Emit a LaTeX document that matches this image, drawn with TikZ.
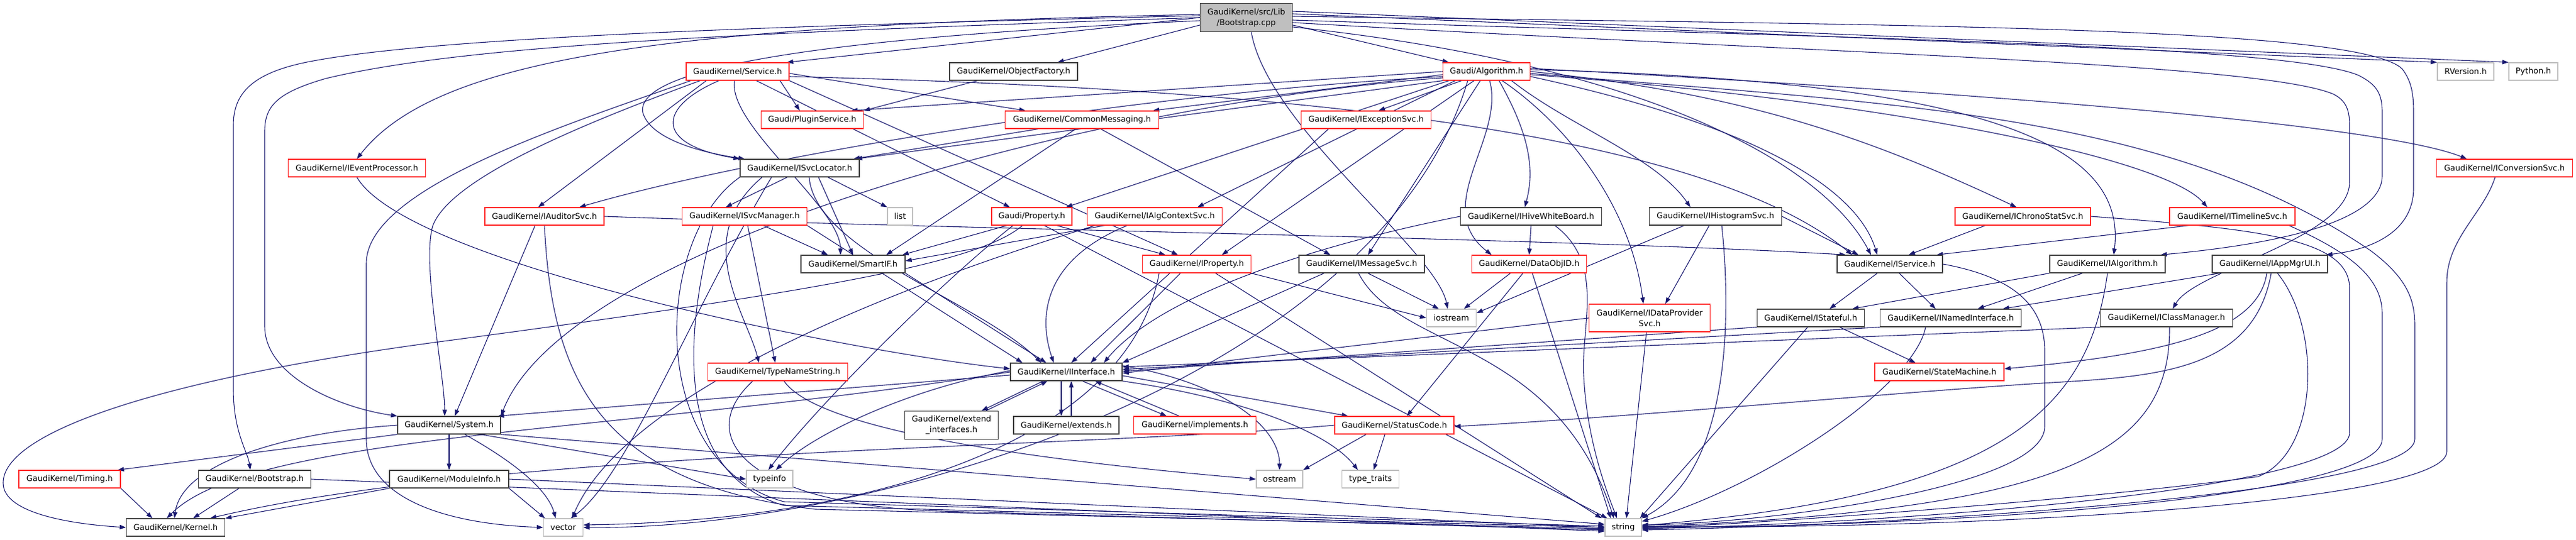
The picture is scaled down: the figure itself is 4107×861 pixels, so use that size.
\documentclass[tikz,border=0pt]{standalone}
\usepackage{fontspec}
\setmainfont{DejaVu Sans}
\usetikzlibrary{arrows.meta}
\pgfdeclarelayer{bg}
\pgfsetlayers{bg,main}
\definecolor{edgec}{HTML}{191970}
\definecolor{nodered}{HTML}{FF2A2A}
\definecolor{nodeblk}{HTML}{404040}
\definecolor{nodegry}{HTML}{BFBFBF}
\begin{document}
\begin{tikzpicture}[x=1pt,y=-1pt,
 nb/.style={line width=1.3pt, fill=white, minimum height=28pt, inner sep=0pt, font=\fontsize{12.8pt}{17pt}\selectfont, align=center, text=black},
 nred/.style={nb, draw=nodered},
 nblk/.style={nb, draw=nodeblk},
 ngry/.style={nb, draw=nodegry},
 nfil/.style={nb, draw=nodeblk, fill=nodegry},
 dep/.style={draw=edgec, line width=1.1pt, -{Triangle[length=10pt,width=7pt]}}
]
\useasboundingbox (0,0) rectangle (4107,861);
% ---------- nodes ----------
\node[nfil, minimum width=147pt, minimum height=45pt] (bcpp) at (1987,28) {GaudiKernel/src/Lib\\/Bootstrap.cpp};
\node[nred, minimum width=164pt] (serv) at (1176,114) {GaudiKernel/Service.h};
\node[nblk, minimum width=204pt] (objf) at (1616,114) {GaudiKernel/ObjectFactory.h};
\node[nred, minimum width=139pt] (galg) at (2370,114) {Gaudi/Algorithm.h};
\node[ngry, minimum width=90pt] (rver) at (3931,114) {RVersion.h};
\node[ngry, minimum width=78pt] (pyth) at (4039,114) {Python.h};
\node[nred, minimum width=163pt] (plug) at (1295,191) {Gaudi/PluginService.h};
\node[nred, minimum width=245pt] (cmsg) at (1725,191) {GaudiKernel/CommonMessaging.h};
\node[nred, minimum width=207pt] (iexc) at (2178,191) {GaudiKernel/IExceptionSvc.h};
\node[nred, minimum width=219pt] (ievp) at (569,268) {GaudiKernel/IEventProcessor.h};
\node[nblk, minimum width=190pt] (isvl) at (1275,268) {GaudiKernel/ISvcLocator.h};
\node[nred, minimum width=217pt] (iconv) at (3993,268) {GaudiKernel/IConversionSvc.h};
\node[nred, minimum width=190pt] (iaud) at (868,345) {GaudiKernel/IAuditorSvc.h};
\node[nred, minimum width=199pt] (ismg) at (1187,345) {GaudiKernel/ISvcManager.h};
\node[ngry, minimum width=40pt] (list) at (1435,345) {list};
\node[nred, minimum width=128pt] (prop) at (1645,345) {Gaudi/Property.h};
\node[nred, minimum width=215pt] (iactx) at (1841,345) {GaudiKernel/IAlgContextSvc.h};
\node[nblk, minimum width=225pt] (ihwb) at (2441,345) {GaudiKernel/IHiveWhiteBoard.h};
\node[nblk, minimum width=211pt] (ihist) at (2735,345) {GaudiKernel/IHistogramSvc.h};
\node[nred, minimum width=216pt] (ichr) at (3225,345) {GaudiKernel/IChronoStatSvc.h};
\node[nred, minimum width=200pt] (itml) at (3559,345) {GaudiKernel/ITimelineSvc.h};
\node[nblk, minimum width=166pt] (smif) at (1360,421) {GaudiKernel/SmartIF.h};
\node[nred, minimum width=173pt] (iprop) at (1908,421) {GaudiKernel/IProperty.h};
\node[nblk, minimum width=200pt] (imsg) at (2171,421) {GaudiKernel/IMessageSvc.h};
\node[nred, minimum width=183pt] (doid) at (2438,421) {GaudiKernel/DataObjID.h};
\node[nblk, minimum width=168pt] (isrv) at (3013,421) {GaudiKernel/IService.h};
\node[nblk, minimum width=184pt] (ialg) at (3360,421) {GaudiKernel/IAlgorithm.h};
\node[nblk, minimum width=184pt] (iapp) at (3619,421) {GaudiKernel/IAppMgrUI.h};
\node[ngry, minimum width=79pt] (iost) at (2314,507) {iostream};
\node[nred, minimum width=193pt, minimum height=44pt] (idps) at (2630,507) {GaudiKernel/IDataProvider\\Svc.h};
\node[nblk, minimum width=171pt] (istf) at (2887,507) {GaudiKernel/IStateful.h};
\node[nblk, minimum width=225pt] (inam) at (3110,507) {GaudiKernel/INamedInterface.h};
\node[nblk, minimum width=211pt] (icls) at (3454,507) {GaudiKernel/IClassManager.h};
\node[nred, minimum width=223pt] (tns) at (1240,593) {GaudiKernel/TypeNameString.h};
\node[nblk, minimum width=178pt] (iint) at (1700,593) {GaudiKernel/IInterface.h};
\node[nred, minimum width=206pt] (stm) at (3092,593) {GaudiKernel/StateMachine.h};
\node[nblk, minimum width=164pt] (sys) at (716,678) {GaudiKernel/System.h};
\node[nblk, minimum width=149pt, minimum height=45pt] (ext) at (1517,678) {GaudiKernel/extend\\\_interfaces.h};
\node[nblk, minimum width=168pt] (exts) at (1700,678) {GaudiKernel/extends.h};
\node[nred, minimum width=195pt] (impl) at (1905,678) {GaudiKernel/implements.h};
\node[nred, minimum width=190pt] (stc) at (2223,678) {GaudiKernel/StatusCode.h};
\node[nred, minimum width=162pt] (tim) at (111,764) {GaudiKernel/Timing.h};
\node[nblk, minimum width=179pt] (bsh) at (406,764) {GaudiKernel/Bootstrap.h};
\node[nblk, minimum width=190pt] (mod) at (716,764) {GaudiKernel/ModuleInfo.h};
\node[ngry, minimum width=74pt] (tinf) at (1227,764) {typeinfo};
\node[ngry, minimum width=74pt] (ostr) at (2040,764) {ostream};
\node[ngry, minimum width=91pt] (ttr) at (2185,764) {type\_traits};
\node[nblk, minimum width=157pt] (kern) at (280,841) {GaudiKernel/Kernel.h};
\node[ngry, minimum width=63pt] (vec) at (898,841) {vector};
\node[ngry, minimum width=58pt] (str) at (2588,841) {string};
% ---------- edges ----------
\begin{pgfonlayer}{bg}
\fill[white] (0,0) rectangle (4107,861);
% Bootstrap.cpp
\draw[dep] (bcpp.west) -- ([xshift=-4pt]serv.north east);
\draw[dep] ([yshift=-12pt]bcpp.west) -- ([xshift=70pt]objf.north);
\draw[dep] ([yshift=-12pt]bcpp.east) -- ([xshift=10pt]galg.north west);
\draw[dep] ([yshift=6pt]bcpp.east) -- (rver.north west);
\draw[dep] ([yshift=10pt]bcpp.east) -- (pyth.north west);
\draw[dep] ([yshift=5pt]bcpp.west) .. controls (1100,40) and (700,85) .. (ievp.north);
\draw[dep] ([yshift=3pt]bcpp.west) .. controls (1200,42) and (700,60) .. (500,97) .. controls (400,115) and (372,150) .. (372,200) -- (372,620) .. controls (372,690) and (395,720) .. ([xshift=-7pt]bsh.north);
\draw[dep] (bcpp.west) .. controls (1200,52) and (750,70) .. (520,125) .. controls (440,148) and (422,170) .. (422,210) -- (422,520) .. controls (422,600) and (540,650) .. (sys.north west);
\draw[dep] ([yshift=-5pt]bcpp.west) .. controls (1300,60) and (1010,110) .. (1025,180) .. controls (1040,230) and (1150,248) .. ([xshift=8pt]isvl.north west);
\draw[dep] ([xshift=8pt]bcpp.south) .. controls (2020,200) and (2290,400) .. ([xshift=-6pt]iost.north);
\draw[dep] ([yshift=-15pt]bcpp.east) .. controls (2600,100) and (2900,250) .. ([xshift=-30pt]isrv.north);
\draw[dep] ([yshift=-4pt]bcpp.east) .. controls (2900,60) and (3640,70) .. (3760,120) .. controls (3790,135) and (3798,150) .. (3798,180) -- (3798,280) .. controls (3798,360) and (3600,392) .. ([xshift=-8pt]ialg.north east);
\draw[dep] ([yshift=2pt]bcpp.east) .. controls (3000,40) and (3760,40) .. (3830,110) .. controls (3845,130) and (3848,150) .. (3848,180) -- (3848,300) .. controls (3848,370) and (3780,398) .. ([xshift=-3pt]iapp.north east);
\draw[dep] ([yshift=-8pt]bcpp.east) .. controls (2900,85) and (3600,100) .. (3720,150) .. controls (3740,160) and (3746,175) .. (3746,200) -- (3746,290) .. controls (3746,380) and (3500,430) .. ([xshift=10pt]icls.north);
% Service.h
\draw[dep] ([xshift=-15pt]serv.south east) -- ([xshift=-20pt]plug.north);
\draw[dep] ([yshift=-3pt]serv.east) -- ([xshift=-90pt]cmsg.north);
\draw[dep] ([xshift=-30pt]serv.south) .. controls (1050,170) and (1040,230) .. (isvl.north west);
\draw[dep] ([xshift=-50pt]serv.south) -- ([xshift=-10pt]iaud.north);
\draw[dep] ([xshift=-60pt]serv.south) .. controls (950,190) and (720,280) .. (690,360) .. controls (672,420) and (709,600) .. ([xshift=-7pt]sys.north);
\draw[dep] ([xshift=30pt]serv.south) -- ([xshift=-35pt]prop.north);
\draw[dep] (serv.south east) -- ([xshift=-30pt]iprop.north);
\draw[dep] ([yshift=-8pt]serv.east) .. controls (2000,140) and (2700,200) .. ([xshift=-60pt]isrv.north);
\draw[dep] ([xshift=-5pt]serv.south) .. controls (1160,200) and (1340,330) .. ([xshift=-20pt]smif.north);
\draw[dep] ([xshift=-75pt]serv.south) .. controls (900,200) and (584,300) .. (584,420) -- (584,700) .. controls (584,790) and (700,835) .. (vec.west);
% Gaudi/Algorithm.h
\draw[dep] (galg.west) -- ([xshift=-20pt]plug.north east);
\draw[dep] ([yshift=-5pt]galg.west) -- ([xshift=-10pt]cmsg.north east);
\draw[dep] ([xshift=-40pt]galg.south) -- ([xshift=20pt]iexc.north);
\draw[dep] (galg.south west) -- ([xshift=-6pt]isvl.north east);
\draw[dep] ([yshift=-8pt]galg.west) .. controls (1800,150) and (1200,250) .. ([xshift=-40pt]iaud.north east);
\draw[dep] ([yshift=-10pt]galg.west) .. controls (1700,170) and (900,400) .. (sys.north east);
\draw[dep] ([xshift=10pt]galg.south west) -- ([xshift=-10pt]prop.north east);
\draw[dep] ([xshift=20pt]galg.south west) -- ([xshift=-40pt]iactx.north east);
\draw[dep] ([xshift=-20pt]galg.south) -- ([xshift=40pt]iprop.north);
\draw[dep] ([xshift=-10pt]galg.south) -- ([xshift=10pt]imsg.north);
\draw[dep] ([xshift=5pt]galg.south) .. controls (2400,220) and (2280,330) .. ([xshift=-60pt]doid.north);
\draw[dep] ([xshift=20pt]galg.south) .. controls (2430,200) and (2450,260) .. ([xshift=-10pt]ihwb.north);
\draw[dep] ([xshift=40pt]galg.south) .. controls (2500,200) and (2640,250) .. ([xshift=-40pt]ihist.north);
\draw[dep] ([xshift=25pt]galg.south) .. controls (2500,200) and (2600,330) .. ([xshift=-10pt]idps.north);
\draw[dep] (galg.east) .. controls (2800,150) and (3000,230) .. ([xshift=-10pt]ichr.north);
\draw[dep] ([yshift=-5pt]galg.east) .. controls (3000,160) and (3450,250) .. ([xshift=-40pt]itml.north);
\draw[dep] ([yshift=5pt]galg.east) .. controls (3200,150) and (3800,200) .. ([xshift=-60pt]iconv.north);
\draw[dep] ([yshift=-8pt]galg.east) .. controls (2800,200) and (2960,300) .. ([xshift=-20pt]isrv.north);
\draw[dep] ([yshift=3pt]galg.east) .. controls (3200,130) and (3390,240) .. ([xshift=10pt]ialg.north);
\draw[dep] ([yshift=-3pt]galg.east) .. controls (3000,165) and (3450,175) .. (3780,400) .. controls (3840,445) and (3850,480) .. (3850,520) -- (3850,700) .. controls (3850,790) and (3000,838) .. ([yshift=-4pt]str.east);
\draw[dep] ([xshift=-30pt]galg.south) .. controls (2200,600) and (1400,845) .. (vec.east);
% ObjectFactory, CommonMessaging, IExceptionSvc, IEventProcessor
\draw[dep] ([xshift=45pt]objf.south west) -- (plug.north east);
\draw[dep] ([xshift=-70pt]cmsg.south) -- ([xshift=-10pt]isvl.north east);
\draw[dep] ([xshift=-10pt]cmsg.south) -- ([xshift=53pt]smif.north);
\draw[dep] ([xshift=30pt]cmsg.south) -- ([xshift=-50pt]imsg.north);
\draw[dep] ([xshift=-60pt]iexc.south) -- ([xshift=8pt]iint.north);
\draw[dep] (ievp.south) .. controls (650,420) and (1350,560) .. ([yshift=5pt]iint.west);
% ISvcLocator
\draw[dep] ([xshift=-20pt]isvl.south) -- ([xshift=-30pt]ismg.north);
\draw[dep] ([xshift=30pt]isvl.south) -- (smif.north);
\draw[dep] ([xshift=45pt]isvl.south) -- (list.north west);
\draw[dep] ([xshift=-60pt]isvl.south) .. controls (1100,380) and (1190,500) .. ([xshift=-30pt]tns.north);
\draw[dep] ([xshift=15pt]isvl.south) .. controls (1300,400) and (1560,480) .. ([xshift=-40pt]iint.north);
\draw[dep] (isvl.south west) .. controls (1040,380) and (1030,740) .. (1250,800) -- ([yshift=2pt]str.west);
\draw[dep] ([xshift=-45pt]isvl.south) .. controls (1100,500) and (1000,760) .. ([xshift=12pt]vec.north);
% ISvcManager
\draw[dep] ([xshift=5pt]ismg.south) -- ([xshift=-4pt]tns.north);
\draw[dep] ([xshift=30pt]ismg.south) -- ([xshift=-40pt]smif.north);
\draw[dep] (ismg.south east) -- ([xshift=-70pt]iint.north);
\draw[dep] ([xshift=-50pt]ismg.south) .. controls (1100,500) and (1060,750) .. (1250,806) -- (str.west);
% IAuditorSvc
\draw[dep] (iaud.east) .. controls (1500,365) and (2500,380) .. ([xshift=-70pt]isrv.north);
\draw[dep] ([xshift=-15pt]iaud.south) -- ([xshift=9pt]sys.north);
\draw[dep] (iaud.south) .. controls (880,600) and (950,770) .. (1300,812) -- ([yshift=-2pt]str.west);
% Property
\draw[dep] ([xshift=-40pt]prop.south) -- ([xshift=-5pt]smif.north east);
\draw[dep] ([xshift=40pt]prop.south) -- ([xshift=-50pt]iprop.north);
\draw[dep] ([xshift=-15pt]prop.south) .. controls (1560,420) and (1300,465) .. (700,545) .. controls (250,605) and (5,690) .. (5,770) .. controls (5,820) and (120,836) .. (kern.west);
\draw[dep] ([xshift=20pt]prop.south) -- ([xshift=4pt]str.north west);
\draw[dep] ([xshift=-30pt]prop.south) .. controls (1500,450) and (1300,650) .. ([xshift=-2pt]tinf.north);
% IAlgContextSvc
\draw[dep] ([xshift=-44pt]iactx.south) .. controls (1650,420) and (1660,520) .. ([xshift=-20pt]iint.north);
\draw[dep] ([xshift=-80pt]iactx.south) -- ([yshift=5pt]smif.east);
\draw[dep] ([xshift=-95pt]iactx.south) .. controls (1450,450) and (1000,620) .. ([xshift=14pt]vec.north);
% IHiveWhiteBoard
\draw[dep] (ihwb.south) -- (doid.north);
\draw[dep] (ihwb.west) .. controls (2100,390) and (1850,470) .. ([xshift=60pt]iint.north);
\draw[dep] ([xshift=38pt]ihwb.south) .. controls (2560,420) and (2520,520) .. (2525,600) .. controls (2530,700) and (2560,780) .. ([xshift=-10pt]str.north);
% IHistogramSvc
\draw[dep] ([xshift=-10pt]ihist.south) -- ([xshift=25pt]idps.north);
\draw[dep] ([xshift=-50pt]ihist.south) -- ([yshift=8pt]iost.east);
\draw[dep] (ihist.east) -- ([xshift=-50pt]isrv.north);
\draw[dep] ([xshift=10pt]ihist.south) .. controls (2760,500) and (2760,750) .. (str.north east);
% IChronoStatSvc, ITimelineSvc, IConversionSvc
\draw[dep] ([xshift=-60pt]ichr.south) -- ([xshift=30pt]isrv.north);
\draw[dep] (ichr.east) .. controls (3600,365) and (3746,380) .. (3746,460) -- (3746,690) .. controls (3746,775) and (3100,832) .. ([yshift=-2pt]str.east);
\draw[dep] ([xshift=-70pt]itml.south) -- ([xshift=-10pt]isrv.north east);
\draw[dep] ([xshift=-10pt]itml.south east) .. controls (3740,400) and (3798,440) .. (3798,500) -- (3798,700) .. controls (3798,795) and (3100,840) .. (str.east);
\draw[dep] ([xshift=-15pt]iconv.south) .. controls (3960,340) and (3901,380) .. (3901,450) -- (3901,720) .. controls (3901,805) and (3100,846) .. ([yshift=2pt]str.east);
% SmartIF, IProperty, IMessageSvc, DataObjID
\draw[dep] (smif.south east) -- ([xshift=-32pt]iint.north);
\draw[dep] ([xshift=-26pt]iprop.south) -- ([xshift=39pt]iint.north);
\draw[dep] (iprop.south east) -- (iost.west);
\draw[dep] ([xshift=30pt]iprop.south) -- ([xshift=-5pt]str.north west);
\draw[dep] ([xshift=-60pt]iprop.south) .. controls (1800,700) and (1400,830) .. ([yshift=4pt]vec.east);
\draw[dep] ([xshift=-60pt]imsg.south) -- (iint.north east);
\draw[dep] ([xshift=10pt]imsg.south) -- ([xshift=-20pt]iost.north);
\draw[dep] ([xshift=-5pt]imsg.south) .. controls (2230,560) and (2480,540) .. ([xshift=-15pt]str.north);
\draw[dep] ([xshift=-30pt]doid.south) -- ([xshift=20pt]iost.north);
\draw[dep] ([xshift=-10pt]doid.south) -- ([xshift=20pt]stc.north);
\draw[dep] ([xshift=5pt]doid.south) -- ([xshift=-20pt]str.north);
% IService, IAlgorithm
\draw[dep] ([xshift=-20pt]isrv.south) -- ([xshift=30pt]istf.north);
\draw[dep] ([xshift=15pt]isrv.south) -- ([xshift=-24pt]inam.north);
\draw[dep] (isrv.east) .. controls (3200,440) and (3260,480) .. (3260,560) -- (3260,680) .. controls (3260,780) and (2800,835) .. ([yshift=4pt]str.east);
\draw[dep] (ialg.south west) -- ([xshift=-20pt]istf.north east);
\draw[dep] ([xshift=-40pt]ialg.south) -- ([xshift=-70pt]inam.north east);
\draw[dep] (ialg.south) .. controls (3330,650) and (3200,790) .. ([yshift=3pt]str.east);
% IAppMgrUI
\draw[dep] ([xshift=12pt]iapp.south west) -- ([xshift=-30pt]inam.north east);
\draw[dep] ([xshift=-5pt]iapp.south) .. controls (3600,530) and (3450,565) .. ([yshift=5pt]stm.east);
\draw[dep] ([xshift=2pt]iapp.south) .. controls (3590,610) and (3400,600) .. (3210,614) .. controls (3000,628) and (2600,665) .. ([yshift=-2pt]stc.east);
\draw[dep] ([xshift=12pt]iapp.south) .. controls (3700,520) and (3700,720) .. (3600,760) .. controls (3300,800) and (2800,835) .. ([yshift=-1pt]str.east);
% IDataProviderSvc, IStateful, INamedInterface, IClassManager
\draw[dep] (idps.west) -- ([yshift=-2pt]iint.east);
\draw[dep] ([xshift=-5pt]idps.south) -- ([xshift=5pt]str.north);
\draw[dep] (istf.south west) -- ([yshift=1pt]iint.east);
\draw[dep] ([xshift=-40pt]istf.south east) -- ([xshift=-38pt]stm.north);
\draw[dep] ([xshift=-5pt]istf.south) -- ([xshift=-3pt]str.north east);
\draw[dep] (inam.south west) -- ([yshift=4pt]iint.east);
\draw[dep] ([xshift=-40pt]inam.south) .. controls (3050,620) and (2800,780) .. ([yshift=-5pt]str.north east);
\draw[dep] (icls.south west) -- ([yshift=8pt]iint.east);
\draw[dep] ([xshift=5pt]icls.south) .. controls (3460,720) and (3300,812) .. ([yshift=1pt]str.east);
% TypeNameString
\draw[dep] ([xshift=-40pt]tns.south) .. controls (1100,700) and (1200,805) .. (1500,815) -- ([yshift=-4pt]str.west);
\draw[dep] ([xshift=10pt]tns.south) .. controls (1300,680) and (1600,730) .. (ostr.west);
% IInterface
\draw[dep] (iint.west) .. controls (1000,690) and (400,690) .. ([xshift=-14pt]kern.north);
\draw[dep] ([yshift=-5pt]iint.west) -- ([xshift=-5pt]sys.north east);
\draw[dep] ([yshift=-6pt]iint.east) -- ([xshift=22pt]stc.north west);
\draw[dep] ([xshift=-37pt]iint.south) -- ([xshift=48pt]ext.north);
\draw[dep] ([xshift=55pt]ext.north) -- ([xshift=-30pt]iint.south);
\draw[dep] ([xshift=-8pt]iint.south) -- ([xshift=-8pt]exts.north);
\draw[dep] ([xshift=8pt]exts.north) -- ([xshift=8pt]iint.south);
\draw[dep] ([xshift=26pt]iint.south) -- ([xshift=-45pt]impl.north);
\draw[dep] ([xshift=-25pt]impl.north) -- ([xshift=46pt]iint.south);
\draw[dep] ([yshift=2pt]iint.west) .. controls (1450,620) and (1300,690) .. ([xshift=10pt]tinf.north);
\draw[dep] ([yshift=10pt]iint.east) .. controls (1950,610) and (2040,680) .. (ostr.north);
\draw[dep] (iint.south east) .. controls (1950,630) and (2110,680) .. ([xshift=-20pt]ttr.north);
% System.h
\draw[dep] (sys.west) .. controls (450,690) and (290,740) .. ([xshift=-2pt]kern.north);
\draw[dep] (sys.south) -- (mod.north);
\draw[dep] (sys.south west) -- ([xshift=-5pt]tim.north east);
\draw[dep] (sys.south east) -- ([yshift=5pt]str.west);
\draw[dep] ([xshift=50pt]sys.south) -- (tinf.west);
\draw[dep] ([xshift=25pt]sys.south) .. controls (790,720) and (870,770) .. ([xshift=-12pt]vec.north);
% StatusCode
\draw[dep] (stc.west) .. controls (1700,716) and (800,716) .. ([xshift=55pt]kern.north);
\draw[dep] ([xshift=-45pt]stc.south) -- (ostr.north east);
\draw[dep] ([xshift=-15pt]stc.south) -- ([xshift=5pt]ttr.north);
% bottom rows
\draw[dep] (tim.south east) -- ([xshift=-37pt]kern.north);
\draw[dep] ([xshift=-25pt]bsh.south) -- ([xshift=28pt]kern.north);
\draw[dep] (bsh.east) -- ([yshift=-6pt]str.west);
\draw[dep] (mod.south west) -- (kern.north east);
\draw[dep] (mod.east) -- (str.west);
\draw[dep] (mod.south east) -- ([xshift=3pt]vec.north west);
\end{pgfonlayer}
\end{tikzpicture}
\end{document}
